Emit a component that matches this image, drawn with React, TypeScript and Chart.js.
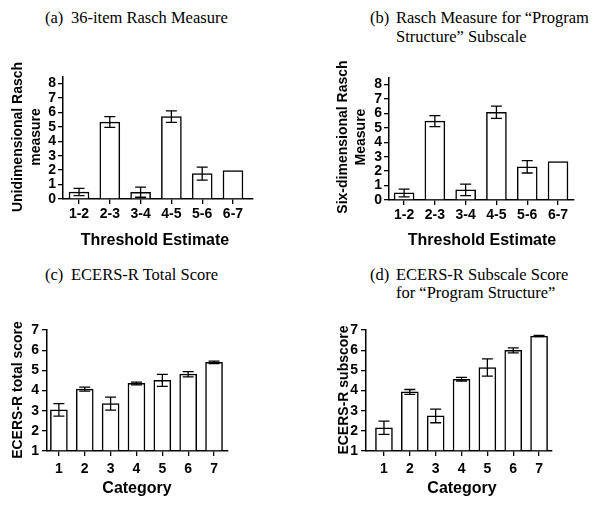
import React, { useEffect, useRef } from 'react';
import { Chart, registerables } from 'chart.js';

Chart.register(...registerables);

// ---------- data ----------
const thresholdLabels = ['1-2', '2-3', '3-4', '4-5', '5-6', '6-7'];
const categoryLabels = ['1', '2', '3', '4', '5', '6', '7'];

const uniRaschValues = [0.48, 5.33, 0.47, 5.71, 1.76, 1.97];
const uniRaschErrors = [0.25, 0.37, 0.35, 0.4, 0.45, 0];

const sixRaschValues = [0.49, 5.46, 0.7, 6.08, 2.3, 2.66];
const sixRaschErrors = [0.27, 0.38, 0.4, 0.42, 0.43, 0];

const totalScoreValues = [3.04, 4.07, 3.35, 4.35, 4.5, 4.81, 5.4];
const totalScoreErrors = [0.31, 0.1, 0.32, 0.07, 0.3, 0.13, 0.06];

const subScoreValues = [2.15, 3.93, 2.74, 4.56, 5.14, 5.99, 6.7];
const subScoreErrors = [0.33, 0.12, 0.34, 0.09, 0.43, 0.12, 0.03];

const raschTicks = [0, 1, 2, 3, 4, 5, 6, 7, 8];
const ecersTicks = [1, 2, 3, 4, 5, 6, 7];

// ---------- styling ----------
const SANS = "'Liberation Sans', Arial, Helvetica, sans-serif";
const SERIF = "'Liberation Serif', 'Times New Roman', serif";

const errorBarPlugin = {
  id: 'errorBars',
  afterDatasetsDraw(chart: any) {
    const ctx = chart.ctx;
    const yScale = chart.scales.y;
    chart.data.datasets.forEach((ds: any, di: number) => {
      const meta = chart.getDatasetMeta(di);
      const errs: number[] = ds.errors || [];
      meta.data.forEach((bar: any, i: number) => {
        const e = errs[i];
        if (!e) return;
        const v = ds.data[i].y;
        const top = yScale.getPixelForValue(v + e);
        const bot = yScale.getPixelForValue(v - e);
        const x = bar.x;
        const cap = 5.5;
        ctx.save();
        ctx.strokeStyle = '#000';
        ctx.lineWidth = 1.3;
        ctx.beginPath();
        ctx.moveTo(x, top);
        ctx.lineTo(x, bot);
        ctx.moveTo(x - cap, top);
        ctx.lineTo(x + cap, top);
        ctx.moveTo(x - cap, bot);
        ctx.lineTo(x + cap, bot);
        ctx.stroke();
        ctx.restore();
      });
    });
  },
};

type PanelProps = {
  canvas: { left: number; top: number; width: number; height: number };
  area: { left: number; top: number; right: number; bottom: number };
  labels: string[];
  values: number[];
  errors: number[];
  yMin: number;
  yMax: number;
  yTicks: number[];
  padStart: number;
  padEnd: number;
  barWidth: number;
  xTickPad: number;
  yTickPad: number;
};

function Panel(p: PanelProps) {
  const ref = useRef<HTMLCanvasElement>(null);
  useEffect(() => {
    if (!ref.current) return;
    const tickFont = { family: SANS, size: 14, weight: 'bold' as const };
    const grid = {
      display: true,
      drawOnChartArea: false,
      drawTicks: true,
      tickLength: 5,
      color: '#000',
      lineWidth: 1.3,
      offset: false,
    };
    const border = { display: true, color: '#000', width: 1.5 };
    const chart = new Chart(ref.current, {
      type: 'bar',
      data: {
        datasets: [
          {
            data: p.values.map((v, i) => ({ x: i + 1, y: v })),
            backgroundColor: '#fff',
            borderColor: '#000',
            borderWidth: 1.5,
            barThickness: p.barWidth,
            base: p.yMin,
            errors: p.errors,
          } as any,
        ],
      },
      options: {
        animation: false,
        responsive: false,
        maintainAspectRatio: false,
        layout: {
          padding: {
            top: p.area.top - p.canvas.top,
            right: p.canvas.left + p.canvas.width - p.area.right,
            left: 0,
            bottom: 0,
          },
        },
        plugins: { legend: { display: false }, tooltip: { enabled: false } },
        scales: {
          x: {
            type: 'linear',
            offset: false,
            min: 1 - p.padStart,
            max: p.labels.length + p.padEnd,
            afterBuildTicks: (s: any) => {
              s.ticks = p.labels.map((_, i) => ({ value: i + 1 }));
            },
            afterFit: (s: any) => {
              s.height = p.canvas.top + p.canvas.height - p.area.bottom;
            },
            ticks: {
              autoSkip: false,
              maxRotation: 0,
              color: '#000',
              font: tickFont,
              padding: p.xTickPad,
              callback: (v: any) => p.labels[Math.round(Number(v)) - 1] ?? '',
            },
            grid,
            border,
          },
          y: {
            type: 'linear',
            min: p.yMin,
            max: p.yMax,
            afterBuildTicks: (s: any) => {
              s.ticks = p.yTicks.map((v) => ({ value: v }));
            },
            afterFit: (s: any) => {
              s.width = p.area.left - p.canvas.left;
            },
            ticks: {
              autoSkip: false,
              color: '#000',
              font: tickFont,
              padding: p.yTickPad,
              callback: (v: any) => String(v),
            },
            grid,
            border,
          },
        } as any,
      },
      plugins: [errorBarPlugin],
    });
    return () => chart.destroy();
  }, []);
  return (
    <canvas
      ref={ref}
      width={p.canvas.width}
      height={p.canvas.height}
      style={{
        position: 'absolute',
        left: p.canvas.left,
        top: p.canvas.top,
        width: p.canvas.width,
        height: p.canvas.height,
      }}
    />
  );
}

function Txt(props: {
  x: number;
  y: number;
  text: string;
  size: number;
  bold?: boolean;
  serif?: boolean;
  anchor?: 'left' | 'center';
  rotate?: boolean;
}) {
  const base: React.CSSProperties = {
    position: 'absolute',
    left: props.x,
    top: props.y,
    whiteSpace: 'pre',
    fontFamily: props.serif ? SERIF : SANS,
    fontSize: props.size,
    fontWeight: props.bold ? 'bold' : 'normal',
    lineHeight: '18px',
    color: '#000',
    textAlign: 'center',
  };
  let transform = 'translate(0,-50%)';
  if (props.anchor === 'center') transform = 'translate(-50%,-50%)';
  if (props.rotate) transform = 'translate(-50%,-50%) rotate(-90deg)';
  return <div style={{ ...base, transform }}>{props.text}</div>;
}

export default function App() {
  return (
    <div
      style={{
        position: 'absolute',
        left: 0,
        top: 0,
        width: 601,
        height: 505,
        background: '#fff',
        overflow: 'hidden',
      }}
    >
      {/* Panel titles */}
      <Txt x={45} y={18} text="(a)" size={16.5} serif />
      <Txt x={71} y={18} text="36-item Rasch Measure" size={16.5} serif />
      <Txt x={370} y={18} text="(b)" size={16.5} serif />
      <Txt x={396} y={18} text={'Rasch Measure for \u201cProgram'} size={16.5} serif />
      <Txt x={396} y={37} text={'Structure\u201d Subscale'} size={16.5} serif />
      <Txt x={45} y={275} text="(c)" size={16.5} serif />
      <Txt x={71} y={275} text="ECERS-R Total Score" size={16.5} serif />
      <Txt x={370} y={275} text="(d)" size={16.5} serif />
      <Txt x={396} y={275} text="ECERS-R Subscale Score" size={16.5} serif />
      <Txt x={396} y={293} text={'for \u201cProgram Structure\u201d'} size={16.5} serif />

      <Panel
        canvas={{ left: 0, top: 60, width: 300, height: 200 }}
        area={{ left: 63, top: 77, right: 253, bottom: 199 }}
        labels={thresholdLabels}
        values={uniRaschValues}
        errors={uniRaschErrors}
        yMin={0}
        yMax={8.45}
        yTicks={raschTicks}
        padStart={0.52}
        padEnd={0.65}
        barWidth={20}
        xTickPad={2}
        yTickPad={2}
      />
      <Panel
        canvas={{ left: 300, top: 60, width: 301, height: 200 }}
        area={{ left: 389, top: 78, right: 574, bottom: 200 }}
        labels={thresholdLabels}
        values={sixRaschValues}
        errors={sixRaschErrors}
        yMin={0}
        yMax={8.45}
        yTicks={raschTicks}
        padStart={0.49}
        padEnd={0.52}
        barWidth={20}
        xTickPad={2}
        yTickPad={2}
      />
      <Panel
        canvas={{ left: 0, top: 310, width: 300, height: 190 }}
        area={{ left: 47, top: 330, right: 228, bottom: 451 }}
        labels={categoryLabels}
        values={totalScoreValues}
        errors={totalScoreErrors}
        yMin={1}
        yMax={7}
        yTicks={ecersTicks}
        padStart={0.46}
        padEnd={0.54}
        barWidth={17}
        xTickPad={5}
        yTickPad={3}
      />
      <Panel
        canvas={{ left: 300, top: 310, width: 301, height: 190 }}
        area={{ left: 366, top: 330, right: 552, bottom: 451 }}
        labels={categoryLabels}
        values={subScoreValues}
        errors={subScoreErrors}
        yMin={1}
        yMax={7}
        yTicks={ecersTicks}
        padStart={0.695}
        padEnd={0.5}
        barWidth={17}
        xTickPad={5}
        yTickPad={3}
      />

      {/* Axis titles */}
      <Txt x={26} y={137} text={'Unidimensional Rasch\nmeasure'} size={14} bold rotate />
      <Txt x={351} y={137} text={'Six-dimensional Rasch\nMeasure'} size={14} bold rotate />
      <Txt x={17} y={390} text="ECERS-R total score" size={14} bold rotate />
      <Txt x={343} y={390} text="ECERS-R subscore" size={14} bold rotate />
      <Txt x={155} y={240} text="Threshold Estimate" size={16} bold anchor="center" />
      <Txt x={482} y={240} text="Threshold Estimate" size={16} bold anchor="center" />
      <Txt x={137} y={488} text="Category" size={16} bold anchor="center" />
      <Txt x={462} y={488} text="Category" size={16} bold anchor="center" />
    </div>
  );
}
